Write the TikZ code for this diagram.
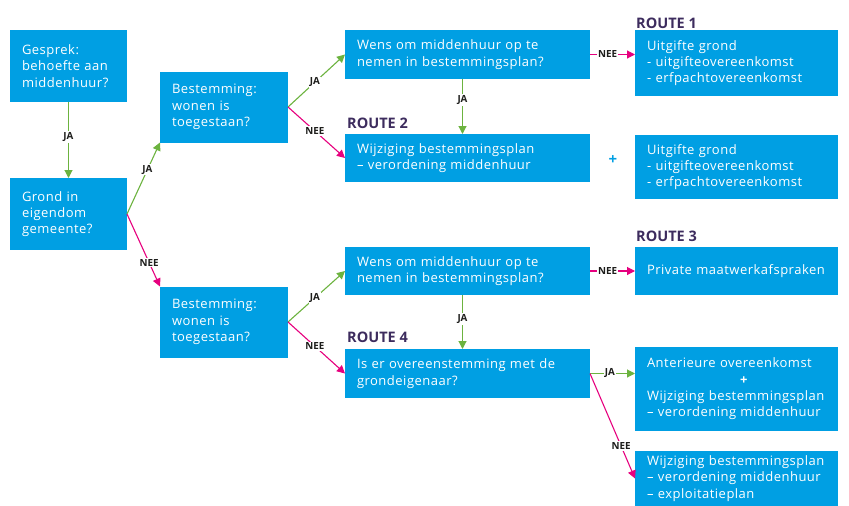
\documentclass[tikz,border=0pt]{standalone}
\usepackage{fontspec}
\setmainfont{Open Sans}
\newfontfamily\boxfont{Open Sans}[LetterSpace=3.8]
\usetikzlibrary{arrows.meta}
\definecolor{boxblue}{HTML}{009FE3}
\definecolor{jagreen}{HTML}{6CB33F}
\definecolor{neepink}{HTML}{E6007E}
\definecolor{routecol}{HTML}{3D2C5E}
\definecolor{lblcol}{HTML}{1D1D1B}
\begin{document}
\begin{tikzpicture}[x=1pt,y=-1pt,
  box/.style={fill=boxblue, text=white, font=\boxfont\fontsize{13}{16.3}\selectfont,
    align=left, inner xsep=12pt, inner ysep=0pt, outer sep=0pt},
  bsmall/.style={box, text width=93pt, minimum height=72pt},
  bmid/.style={box, text width=104pt, minimum height=71pt},
  bwide/.style={box, text width=221pt, minimum height=#1},
  bright/.style={box, text width=179pt, minimum height=#1},
  route/.style={text=routecol, font=\bfseries\fontsize{14.5}{15}\selectfont, anchor=west, inner sep=0pt},
  lbl/.style={fill=white, text=lblcol, font=\bfseries\fontsize{9.8}{10}\selectfont, inner sep=1.2pt},
  ja/.style={draw=jagreen, line width=1.1pt, -{Triangle[length=8pt,width=8pt]}},
  nee/.style={draw=neepink, line width=1.1pt, -{Triangle[length=8pt,width=8pt]}},
]
\useasboundingbox (0,0) rectangle (849,506);

% boxes
\node[bsmall] (gesprek) at (68.5,66) {Gesprek:\\behoefte aan\\middenhuur?};
\node[bsmall] (grond) at (68.5,214) {Grond in\\eigendom\\gemeente?};
\node[bmid] (best1) at (224,107) {Bestemming:\\wonen is\\toegestaan?};
\node[bmid] (best2) at (224,322) {Bestemming:\\wonen is\\toegestaan?};
\node[bwide=49pt] (wens1) at (467.5,54.5) {Wens om middenhuur op te\\nemen in bestemmingsplan?};
\node[bwide=48pt] (wijz) at (467.5,158) {Wijziging bestemmingsplan\\– verordening middenhuur};
\node[bwide=48pt] (wens2) at (467.5,271) {Wens om middenhuur op te\\nemen in bestemmingsplan?};
\node[bwide=49pt] (iser) at (467.5,373.5) {Is er overeenstemming met de\\grondeigenaar?};
\node[bright=66pt] (uitg1) at (736.5,63) {Uitgifte grond\\- uitgifteovereenkomst\\- erfpachtovereenkomst};
\node[bright=64pt] (uitg2) at (736.5,167) {Uitgifte grond\\- uitgifteovereenkomst\\- erfpachtovereenkomst};
\node[bright=48pt] (priv) at (736.5,271) {\mbox{Private maatwerkafspraken}};
\node[bright=84pt] (anter) at (736.5,389) {Anterieure overeenkomst\\\hspace*{93pt}\textbf{+}\\Wijziging bestemmingsplan\\– verordening middenhuur};
\node[bright=55pt] (expl) at (736.5,478.5) {Wijziging bestemmingsplan\\– verordening middenhuur\\– exploitatieplan};

% route labels
\node[route] (r1) at (636,23) {ROUTE 1};
\node[route] (r2) at (347,123) {ROUTE 2};
\node[route] (r3) at (636,236) {ROUTE 3};
\node[route] (r4) at (347,337) {ROUTE 4};

% plus between route 2 boxes
\node[text=boxblue, font=\bfseries\fontsize{15}{15}\selectfont, inner sep=0pt] (plus) at (613,160) {+};

% connectors
\draw[ja] (gesprek.south) -- node[lbl, pos=0.46] {JA} (grond.north);
\draw[ja] (grond.east) -- node[lbl, pos=0.62] {JA} (best1.south west);
\draw[nee] (grond.east) -- node[lbl, pos=0.67] {NEE} (best2.north west);
\draw[ja] (best1.east) -- node[lbl, pos=0.47] {JA} (wens1.west);
\draw[nee] (best1.east) -- node[lbl, pos=0.47] {NEE} (wijz.west);
\draw[ja] ([xshift=-5pt]wens1.south) -- node[lbl, pos=0.38] {JA} ([xshift=-5pt]wijz.north);
\draw[nee] (wens1.east) -- node[lbl, pos=0.39] {NEE} (uitg1.west |- wens1.east);
\draw[ja] (best2.east) -- node[lbl, pos=0.47] {JA} (wens2.west);
\draw[nee] (best2.east) -- node[lbl, pos=0.47] {NEE} (iser.west);
\draw[ja] ([xshift=-5pt]wens2.south) -- node[lbl, pos=0.44] {JA} ([xshift=-5pt]iser.north);
\draw[nee] (wens2.east) -- node[lbl, pos=0.39] {NEE} (priv.west);
\draw[ja] (iser.east) -- node[lbl, pos=0.44] {JA} (anter.west |- iser.east);
\draw[nee] (iser.east) -- node[lbl, pos=0.69] {NEE} (expl.west);
\end{tikzpicture}
\end{document}
